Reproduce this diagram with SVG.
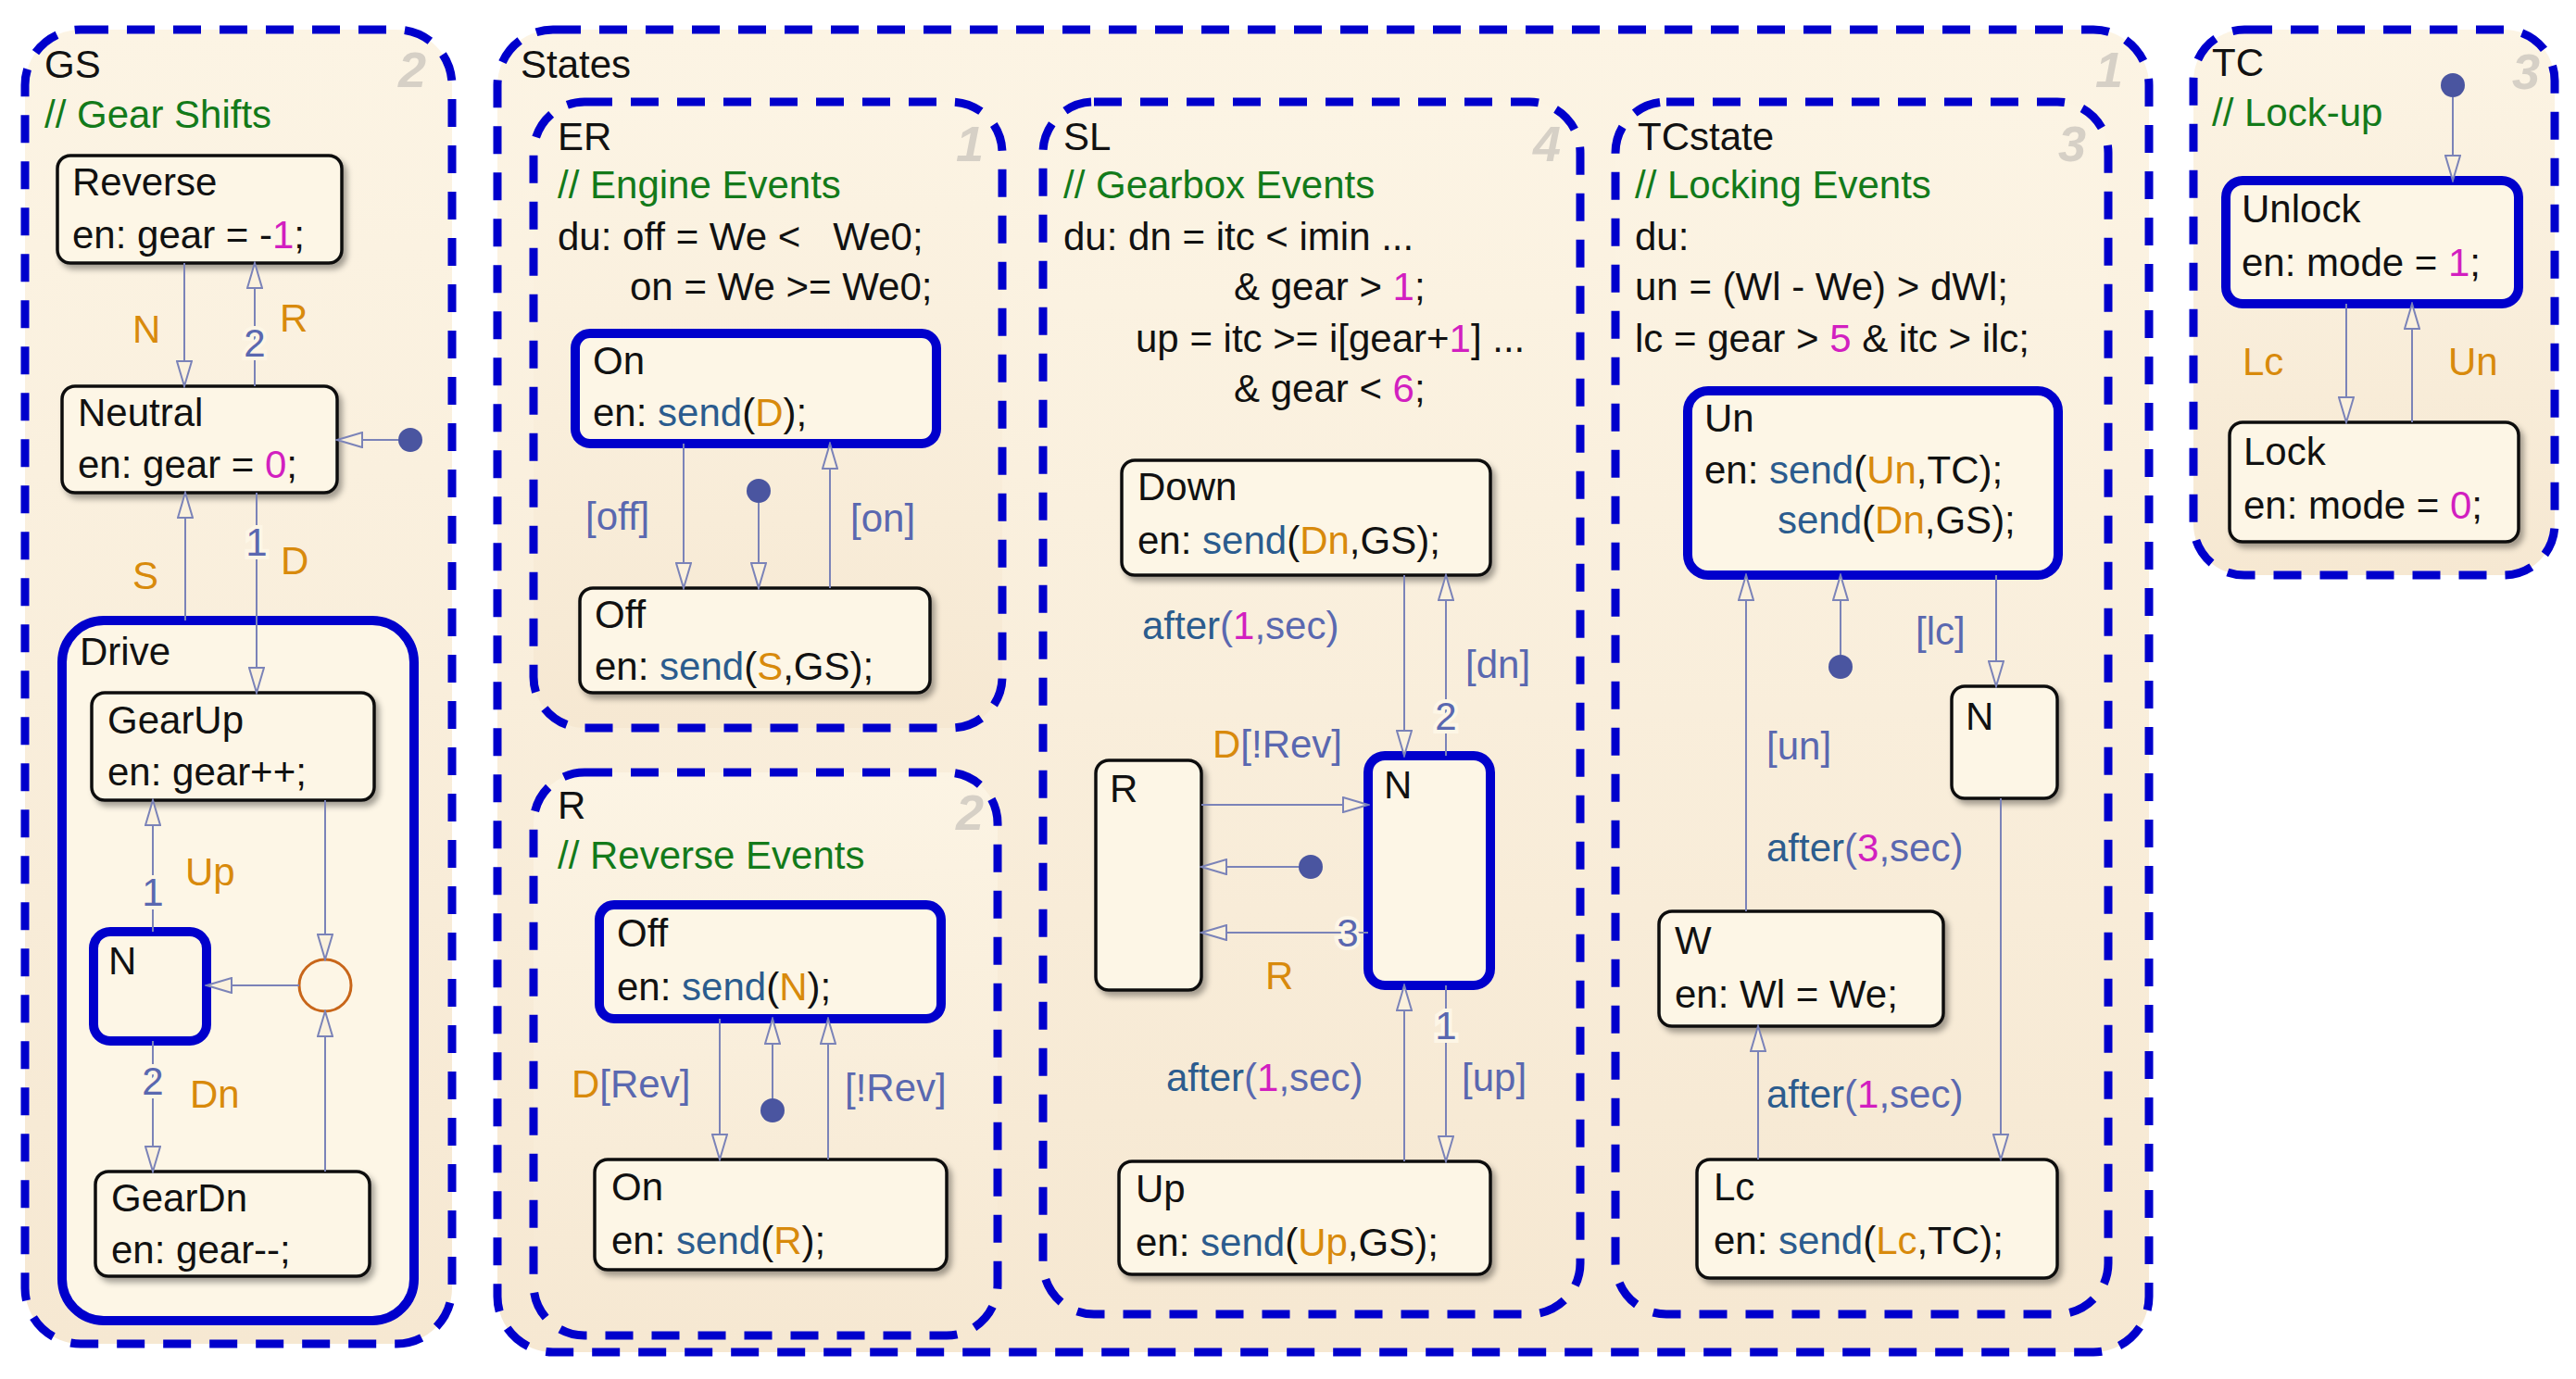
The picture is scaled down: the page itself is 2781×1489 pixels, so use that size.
<svg xmlns="http://www.w3.org/2000/svg" width="2781" height="1489" viewBox="0 0 2781 1489">
<defs>
<marker id="ah" markerUnits="userSpaceOnUse" markerWidth="30" markerHeight="18" refX="28" refY="9" orient="auto"><path d="M1,1 L28,9 L1,17 Z" fill="#fbf1dd" stroke="#7b83b8" stroke-width="2"/></marker>
<filter id="sh" x="-10%" y="-10%" width="130%" height="130%"><feDropShadow dx="4" dy="5" stdDeviation="3" flood-color="#000" flood-opacity="0.35"/></filter>
<linearGradient id="bg" x1="0" y1="0" x2="0" y2="1"><stop offset="0" stop-color="#fcf4e4"/><stop offset="1" stop-color="#f6e8d2"/></linearGradient>
</defs>
<style>
text{font-family:"Liberation Sans",Arial,sans-serif;font-size:42px;fill:#111}
.sup{fill:url(#bg);stroke:#0000cc;stroke-width:9;stroke-dasharray:30 20}
.st{fill:#fdf6e6;stroke:#111;stroke-width:3.5;filter:url(#sh)}
.ac{fill:#fdf6e6;stroke:#0000cc;stroke-width:10}
.tr{fill:none;stroke:#7b83b8;stroke-width:2;marker-end:url(#ah)}
.dot{fill:#4a55a0}
.cm{fill:#137a1a}
.ev{fill:#d88a0c}
.gd{fill:#5a68b0}
.fn{fill:#2b5c8e}
.nm{fill:#d21fc0}
.pr{fill:#5a68b0;stroke:#fdf6e6;stroke-width:8;paint-order:stroke;text-anchor:middle}
.ord{fill:#d6d0c6;font-size:54px;font-style:italic;font-weight:bold}
</style>

<g id="GS">
<rect class="sup" x="27" y="32" width="461" height="1419" rx="60"/>
<text x="48" y="84">GS</text><text class="ord" x="430" y="94">2</text>
<text class="cm" x="48" y="138">// Gear Shifts</text>
<g id="Reverse"><rect class="st" x="62" y="168" width="307" height="116" rx="14"/>
<text x="78" y="211">Reverse</text><text x="78" y="268">en: gear = -<tspan class="nm">1</tspan>;</text></g>
<g id="Neutral"><rect class="st" x="67" y="417" width="297" height="115" rx="14"/>
<text x="84" y="460">Neutral</text><text x="84" y="516">en: gear = <tspan class="nm">0</tspan>;</text></g>
<g id="Drive"><rect class="ac" x="67" y="670" width="380" height="756" rx="45"/>
<text x="86" y="718">Drive</text></g>
<g id="GearUp"><rect class="st" x="99" y="748" width="305" height="116" rx="14"/>
<text x="116" y="792">GearUp</text><text x="116" y="848">en: gear++;</text></g>
<g id="GS_N"><rect class="ac" x="101" y="1006" width="122" height="118" rx="18"/>
<text x="117" y="1052">N</text></g>
<g id="Junction"><circle cx="351" cy="1064" r="28" fill="none" stroke="#c8661a" stroke-width="3"/></g>
<g id="GearDn"><rect class="st" x="103" y="1265" width="296" height="113" rx="14"/>
<text x="120" y="1308">GearDn</text><text x="120" y="1364">en: gear--;</text></g>
</g>

<g id="States">
<rect class="sup" x="537" y="32" width="1783" height="1428" rx="60"/>
<text x="562" y="84">States</text><text class="ord" x="2262" y="94">1</text>
</g>

<g id="ER">
<rect class="sup" x="576" y="110" width="506" height="676" rx="55"/>
<text x="602" y="162">ER</text><text class="ord" x="1032" y="174">1</text>
<text class="cm" x="602" y="214">// Engine Events</text>
<text x="602" y="270" xml:space="preserve">du: off = We &lt;   We0;</text>
<text x="680" y="324">on = We &gt;= We0;</text>
<g id="ER_On"><rect class="ac" x="621" y="360" width="390" height="119" rx="16"/>
<text x="640" y="404">On</text><text x="640" y="460">en: <tspan class="fn">send</tspan>(<tspan class="ev">D</tspan>);</text></g>
<g id="ER_Off"><rect class="st" x="626" y="635" width="378" height="113" rx="14"/>
<text x="642" y="678">Off</text><text x="642" y="734">en: <tspan class="fn">send</tspan>(<tspan class="ev">S</tspan>,GS);</text></g>
</g>

<g id="R">
<rect class="sup" x="576" y="834" width="501" height="608" rx="55"/>
<text x="602" y="884">R</text><text class="ord" x="1032" y="896">2</text>
<text class="cm" x="602" y="938">// Reverse Events</text>
<g id="R_Off"><rect class="ac" x="647" y="977" width="369" height="123" rx="16"/>
<text x="666" y="1022">Off</text><text x="666" y="1080">en: <tspan class="fn">send</tspan>(<tspan class="ev">N</tspan>);</text></g>
<g id="R_On"><rect class="st" x="642" y="1252" width="380" height="119" rx="14"/>
<text x="660" y="1296">On</text><text x="660" y="1354">en: <tspan class="fn">send</tspan>(<tspan class="ev">R</tspan>);</text></g>
</g>

<g id="SL">
<rect class="sup" x="1126" y="110" width="580" height="1309" rx="55"/>
<text x="1148" y="162">SL</text><text class="ord" x="1655" y="174">4</text>
<text class="cm" x="1148" y="214">// Gearbox Events</text>
<text x="1148" y="270">du: dn = itc &lt; imin ...</text>
<text x="1332" y="324">&amp; gear &gt; <tspan class="nm">1</tspan>;</text>
<text x="1226" y="380">up = itc &gt;= i[gear+<tspan class="nm">1</tspan>] ...</text>
<text x="1332" y="434">&amp; gear &lt; <tspan class="nm">6</tspan>;</text>
<g id="SL_Down"><rect class="st" x="1211" y="497" width="398" height="124" rx="14"/>
<text x="1228" y="540">Down</text><text x="1228" y="598">en: <tspan class="fn">send</tspan>(<tspan class="ev">Dn</tspan>,GS);</text></g>
<g id="SL_N"><rect class="ac" x="1477" y="816" width="132" height="248" rx="18"/>
<text x="1494" y="862">N</text></g>
<g id="SL_R"><rect class="st" x="1183" y="821" width="114" height="248" rx="14"/>
<text x="1198" y="866">R</text></g>
<g id="SL_Up"><rect class="st" x="1208" y="1254" width="401" height="122" rx="14"/>
<text x="1226" y="1298">Up</text><text x="1226" y="1356">en: <tspan class="fn">send</tspan>(<tspan class="ev">Up</tspan>,GS);</text></g>
</g>

<g id="TCstate">
<rect class="sup" x="1744" y="110" width="532" height="1309" rx="55"/>
<text x="1768" y="162">TCstate</text><text class="ord" x="2222" y="174">3</text>
<text class="cm" x="1765" y="214">// Locking Events</text>
<text x="1765" y="270">du:</text>
<text x="1765" y="324">un = (Wl - We) &gt; dWl;</text>
<text x="1765" y="380">lc = gear &gt; <tspan class="nm">5</tspan> &amp; itc &gt; ilc;</text>
<g id="TC_Un"><rect class="ac" x="1822" y="422" width="400" height="199" rx="22"/>
<text x="1840" y="466">Un</text><text x="1840" y="522">en: <tspan class="fn">send</tspan>(<tspan class="ev">Un</tspan>,TC);</text>
<text x="1919" y="576"><tspan class="fn">send</tspan>(<tspan class="ev">Dn</tspan>,GS);</text></g>
<g id="TC_N"><rect class="st" x="2107" y="741" width="114" height="121" rx="14"/>
<text x="2122" y="788">N</text></g>
<g id="TC_W"><rect class="st" x="1791" y="984" width="307" height="124" rx="14"/>
<text x="1808" y="1030">W</text><text x="1808" y="1088">en: Wl = We;</text></g>
<g id="TC_Lc"><rect class="st" x="1832" y="1252" width="389" height="128" rx="14"/>
<text x="1850" y="1296">Lc</text><text x="1850" y="1354">en: <tspan class="fn">send</tspan>(<tspan class="ev">Lc</tspan>,TC);</text></g>
</g>

<g id="TC">
<rect class="sup" x="2368" y="32" width="390" height="589" rx="55"/>
<text x="2388" y="82">TC</text><text class="ord" x="2712" y="96">3</text>
<text class="cm" x="2388" y="136">// Lock-up</text>
<g id="Unlock"><rect class="ac" x="2403" y="195" width="316" height="133" rx="18"/>
<text x="2420" y="240">Unlock</text><text x="2420" y="298">en: mode = <tspan class="nm">1</tspan>;</text></g>
<g id="Lock"><rect class="st" x="2407" y="456" width="312" height="129" rx="14"/>
<text x="2422" y="502">Lock</text><text x="2422" y="560">en: mode = <tspan class="nm">0</tspan>;</text></g>
</g>

<g id="connectors">
<!-- GS -->
<path class="tr" d="M199,284 V417"/><path class="tr" d="M275,417 V284"/>
<circle class="dot" cx="443" cy="475" r="13"/><path class="tr" d="M430,475 H364"/>
<path class="tr" d="M200,670 V532"/><path class="tr" d="M277,532 V748"/>
<path class="tr" d="M165,1006 V864"/><path class="tr" d="M165,1124 V1265"/>
<path class="tr" d="M351,864 V1036"/><path class="tr" d="M351,1265 V1092"/>
<path class="tr" d="M323,1064 H223"/>
<text class="pr" x="275" y="385">2</text><text class="pr" x="277" y="600">1</text>
<text class="pr" x="165" y="978">1</text><text class="pr" x="165" y="1182">2</text>
<text class="ev" x="143" y="370">N</text><text class="ev" x="302" y="358">R</text>
<text class="ev" x="143" y="636">S</text><text class="ev" x="303" y="620">D</text>
<text class="ev" x="200" y="956">Up</text><text class="ev" x="205" y="1196">Dn</text>
<!-- ER -->
<path class="tr" d="M738,479 V635"/>
<circle class="dot" cx="819" cy="530" r="13"/><path class="tr" d="M819,543 V635"/>
<path class="tr" d="M896,635 V479"/>
<text class="gd" x="632" y="572">[off]</text><text class="gd" x="918" y="574">[on]</text>
<!-- R -->
<path class="tr" d="M777,1100 V1252"/>
<circle class="dot" cx="834" cy="1199" r="13"/><path class="tr" d="M834,1186 V1100"/>
<path class="tr" d="M894,1252 V1100"/>
<text x="617" y="1185"><tspan class="ev">D</tspan><tspan class="gd">[Rev]</tspan></text>
<text class="gd" x="912" y="1189">[!Rev]</text>
<!-- SL -->
<path class="tr" d="M1516,621 V816"/><path class="tr" d="M1561,816 V621"/>
<text class="pr" x="1561" y="788">2</text>
<text x="1233" y="690"><tspan class="fn">after</tspan><tspan class="gd">(</tspan><tspan class="nm">1</tspan><tspan class="gd">,sec)</tspan></text>
<text class="gd" x="1582" y="732">[dn]</text>
<path class="tr" d="M1297,869 H1477"/>
<text x="1309" y="818"><tspan class="ev">D</tspan><tspan class="gd">[!Rev]</tspan></text>
<circle class="dot" cx="1415" cy="936" r="13"/><path class="tr" d="M1402,936 H1297"/>
<path class="tr" d="M1477,1007 H1297"/>
<text class="pr" x="1455" y="1022">3</text>
<text class="ev" x="1366" y="1068">R</text>
<path class="tr" d="M1516,1254 V1064"/><path class="tr" d="M1561,1064 V1254"/>
<text class="pr" x="1561" y="1122">1</text>
<text x="1259" y="1178"><tspan class="fn">after</tspan><tspan class="gd">(</tspan><tspan class="nm">1</tspan><tspan class="gd">,sec)</tspan></text>
<text class="gd" x="1578" y="1178">[up]</text>
<!-- TCstate -->
<path class="tr" d="M1885,984 V621"/>
<circle class="dot" cx="1987" cy="720" r="13"/><path class="tr" d="M1987,707 V621"/>
<path class="tr" d="M2155,621 V741"/>
<path class="tr" d="M2160,862 V1252"/>
<path class="tr" d="M1898,1252 V1108"/>
<text class="gd" x="1907" y="820">[un]</text>
<text class="gd" x="2068" y="696">[lc]</text>
<text x="1907" y="930"><tspan class="fn">after</tspan><tspan class="gd">(</tspan><tspan class="nm">3</tspan><tspan class="gd">,sec)</tspan></text>
<text x="1907" y="1196"><tspan class="fn">after</tspan><tspan class="gd">(</tspan><tspan class="nm">1</tspan><tspan class="gd">,sec)</tspan></text>
<!-- TC -->
<circle class="dot" cx="2648" cy="92" r="13"/><path class="tr" d="M2648,105 V195"/>
<path class="tr" d="M2533,328 V456"/><path class="tr" d="M2604,456 V328"/>
<text class="ev" x="2421" y="405">Lc</text><text class="ev" x="2643" y="405">Un</text>
</g>
</svg>
